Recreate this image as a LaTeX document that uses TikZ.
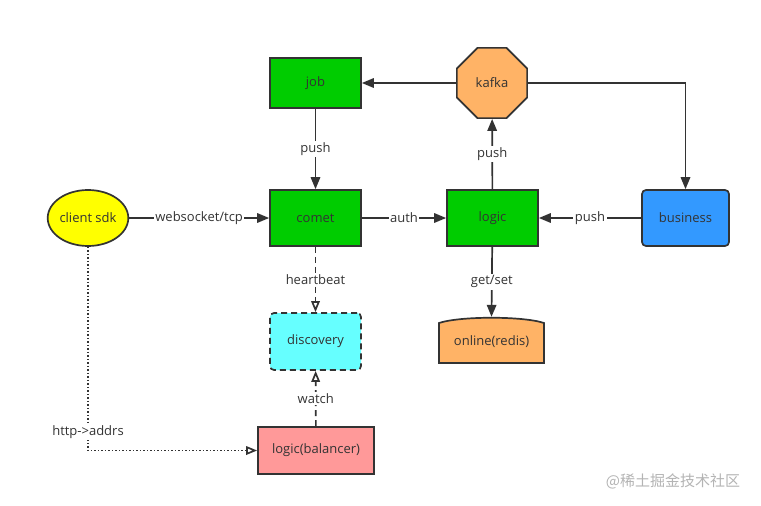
\documentclass[tikz,border=0pt]{standalone}
\usepackage{fontspec}
\setmainfont{Open Sans}
\newfontfamily\cjkfont{Noto Sans CJK SC}
\usetikzlibrary{shapes.geometric,arrows.meta}
\definecolor{linec}{HTML}{333333}
\definecolor{textc}{HTML}{333333}
\definecolor{greenc}{HTML}{00CC00}
\definecolor{orangec}{HTML}{FFB366}
\definecolor{bluec}{HTML}{3399FF}
\definecolor{yellowc}{HTML}{FFFF00}
\definecolor{cyanc}{HTML}{66FFFF}
\definecolor{pinkc}{HTML}{FF9999}
\definecolor{wmc}{HTML}{B4B4B4}
\begin{document}
\begin{tikzpicture}[x=1pt,y=-1pt,
  font=\fontsize{13}{15}\selectfont, text=textc,
  box/.style={draw=linec, line width=1.7pt, minimum width=91pt, minimum height=56pt, inner sep=0pt},
  conn/.style={draw=linec, line width=1.7pt, -{Triangle[length=12pt,width=9.5pt]}},
  openconn/.style={draw=linec, line width=1.7pt, -{Triangle[open,length=11pt,width=8.5pt]}},
  lab/.style={fill=white, inner sep=1.5pt, text=textc}]
\useasboundingbox (0,0) rectangle (761,506);
\fill[white] (0,0) rectangle (761,506);

\node[box, fill=greenc, minimum height=50pt] (job) at (315.5,83) {job};
\node[draw=linec, line width=1.7pt, fill=orangec, regular polygon, regular polygon sides=8, minimum size=76pt, inner sep=0pt] (kafka) at (492,83) {kafka};
\node[box, fill=greenc] (comet) at (315.5,218) {comet};
\node[box, fill=greenc] (logic) at (492.5,218) {logic};
\node[box, fill=bluec, rounded corners=4pt, minimum width=87pt] (business) at (685.5,218) {business};
\node[draw=linec, line width=1.7pt, fill=yellowc, ellipse, minimum width=80pt, minimum height=56pt, inner sep=0pt] (sdk) at (88,218) {client sdk};
\node[box, fill=cyanc, dashed, dash pattern=on 6pt off 4pt, rounded corners=4pt, minimum height=57pt] (disc) at (315.5,341.5) {discovery};
\node[box, fill=pinkc, minimum width=116pt, minimum height=47pt] (bal) at (316,450.5) {logic(balancer)};
\node[minimum width=105pt, minimum height=46pt, inner sep=0pt] (redis) at (491.5,340) {};
\draw[linec, line width=1.7pt, fill=orangec] (439,363) -- (439,323) .. controls (460,316) and (523,316) .. (544,323) -- (544,363) -- cycle;
\node at (redis) [yshift=-2pt] {online(redis)};

\draw[conn] (kafka) -- (job);
\draw[conn] (kafka.east) -| (business.north);
\draw[conn] (job) -- node[lab] {push} (comet);
\draw[conn] (sdk) -- node[lab] {websocket/tcp} (comet);
\draw[conn] (comet) -- node[lab] {auth} (logic);
\draw[conn] (logic) -- node[lab] {push} (kafka);
\draw[conn] (business) -- node[lab] {push} (logic);
\draw[conn] (logic) -- node[lab] {get/set} (redis.north);
\draw[openconn, dash pattern=on 6pt off 4pt] (comet) -- node[lab] {heartbeat} (disc);
\draw[openconn, dash pattern=on 6pt off 4pt] (bal) -- node[lab] {watch} (disc);
\draw[openconn, dash pattern=on 1.5pt off 2pt] (sdk.south) |- node[lab, pos=0.455] {http->addrs} (bal.west);

\node[text=wmc, font=\cjkfont\fontsize{15}{17}\selectfont] (wm) at (673,481) {@稀土掘金技术社区};
\end{tikzpicture}
\end{document}
